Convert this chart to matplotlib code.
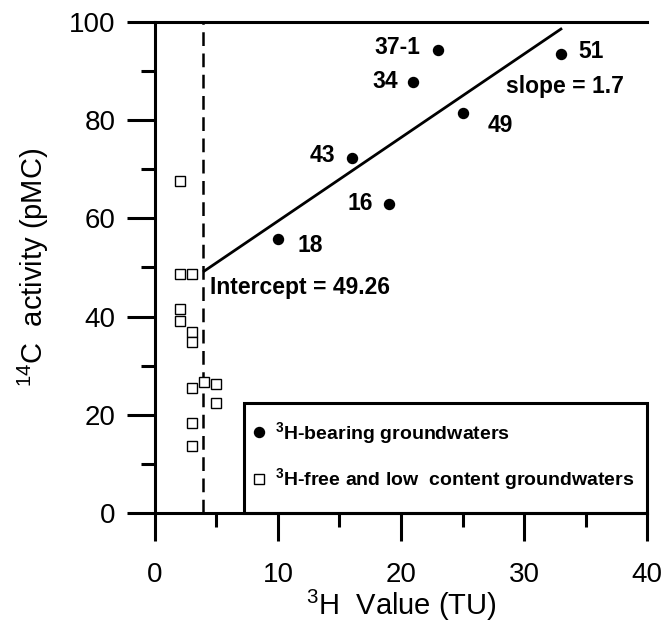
import matplotlib
matplotlib.use("Agg")
import matplotlib.pyplot as plt
from matplotlib.patches import Rectangle

plt.rcParams['font.family'] = ['Liberation Sans', 'DejaVu Sans']
plt.rcParams['mathtext.fontset'] = 'custom'
plt.rcParams['mathtext.rm'] = 'Liberation Sans'
plt.rcParams['mathtext.bf'] = 'Liberation Sans:bold'
plt.rcParams['mathtext.default'] = 'rm'

# 3H-bearing groundwaters (filled circles)
bearing_id = ["37-1", "34", "49", "43", "16", "18", "51"]
bearing_h3 = [23, 21, 25, 16, 19, 10, 33]
bearing_c14 = [94.3, 87.8, 81.5, 72.3, 63.0, 55.8, 93.5]

# 3H-free and low content groundwaters (open squares)
free_h3 = [2, 2, 3, 2, 2, 3, 3, 3, 4, 5, 5, 3, 3]
free_c14 = [67.7, 48.7, 48.7, 41.5, 39.2, 36.9, 34.9, 25.5, 26.7, 26.3, 22.5, 18.4, 13.6]

# regression through the tritium-bearing samples
intercept = 49.26
slope = 1.7
fit_x = [4, 33]
h3_limit = 3.9

# label offsets (data units) for sample ids
label_dx = [-1.45, -1.25, 2.05, -1.35, -1.3, 1.55, 1.45]
label_dy = [0.4, 0.0, -2.5, 0.6, 0.1, -1.4, 0.4]
label_ha = ["right", "right", "left", "right", "right", "left", "left"]

fig = plt.figure(figsize=(6.66, 6.26), dpi=100)
ax = fig.add_axes([0.2327, 0.1805, 0.7388, 0.7844])

ax.plot(bearing_h3, bearing_c14, 'o', color='black', markersize=7.2, zorder=3)
ax.plot(free_h3, free_c14, 's', markerfacecolor='white', markeredgecolor='black',
        markersize=7.5, markeredgewidth=1.0, zorder=3)

fit_y = [intercept + slope * (x - fit_x[0]) for x in fit_x]
ax.plot(fit_x, fit_y, color='black', lw=2)
ax.plot([h3_limit, h3_limit], [0, 100], color='black', lw=1.8, linestyle=(0, (5.5, 3)))

for name, x, y, dx, dy, ha in zip(bearing_id, bearing_h3, bearing_c14, label_dx, label_dy, label_ha):
    ax.text(x + dx, y + dy, name, ha=ha, va='center', fontsize=16.5, fontweight='bold')

ax.text(28.54, 86.8, "slope = 1.7", ha='left', va='center', fontsize=16.5, fontweight='bold')
ax.text(4.47, 46.0, "Intercept = 49.26", ha='left', va='center', fontsize=16.5, fontweight='bold')

# legend box in the lower right corner
ax.add_patch(Rectangle((7.2, 0), 32.8, 22.4, fill=False, edgecolor='black', lw=2.2,
                       clip_on=False, zorder=4))
h1, = ax.plot([], [], 'o', color='black', markersize=7.2)
h2, = ax.plot([], [], 's', markerfacecolor='white', markeredgecolor='black',
              markersize=7.5, markeredgewidth=1.0)
ax.legend([h1, h2], [r"$^{\mathbf{3}}$H-bearing groundwaters",
                     r"$^{\mathbf{3}}$H-free and low  content groundwaters"],
          loc='upper left', bbox_to_anchor=(0.193, 0.189), frameon=False,
          borderpad=0, borderaxespad=0, handlelength=0.9, handletextpad=0.4,
          labelspacing=1.05, prop={'weight': 'bold', 'size': 14})

ax.set_xlim(0, 40)
ax.set_ylim(0, 100)
ax.set_xticks([0, 10, 20, 30, 40])
ax.set_xticks([5, 15, 25, 35], minor=True)
ax.set_yticks([0, 20, 40, 60, 80, 100])
ax.set_yticks([10, 30, 50, 70, 90], minor=True)
ax.tick_params(which='major', direction='out', length=20, width=2.2, labelsize=20)
ax.tick_params(which='minor', direction='out', length=10, width=2.2)
ax.tick_params(axis='x', which='major', pad=15)
ax.tick_params(axis='y', which='major', pad=8.5)
for s in ['left', 'bottom', 'top']:
    ax.spines[s].set_linewidth(2.2)
ax.spines['right'].set_visible(False)

ax.set_xlabel(r"$^{3}$H  Value (TU)", fontsize=21, labelpad=0)
ax.set_ylabel(r"$^{14}$C  activity (pMC)", fontsize=21, labelpad=13)

fig.savefig("out.png", dpi=100)
